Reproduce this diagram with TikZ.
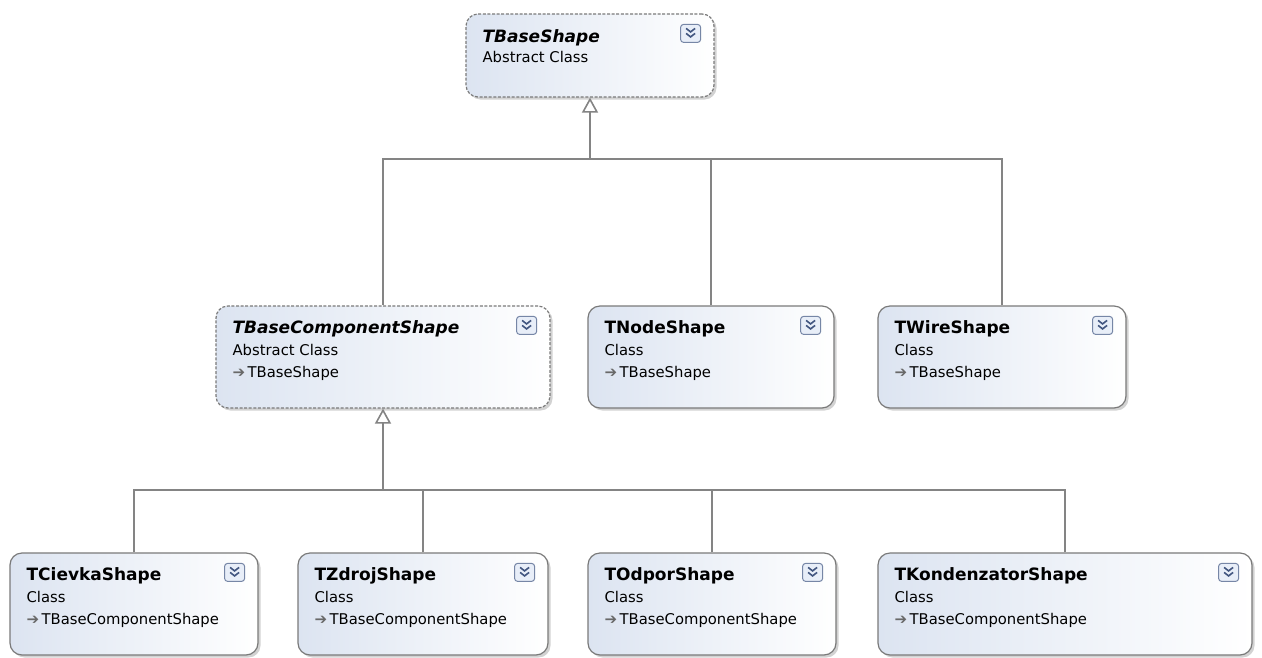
\documentclass[tikz,border=0pt]{standalone}
\usepackage{fontspec}
\setmainfont{DejaVu Sans}
\usetikzlibrary{arrows.meta,shadows}
\definecolor{boxblue}{RGB}{220,228,241}
\definecolor{boxline}{RGB}{122,122,122}
\definecolor{wiregray}{RGB}{132,132,132}
\definecolor{chevline}{RGB}{118,134,166}
\definecolor{chevfill}{RGB}{232,238,248}
\definecolor{chevblue}{RGB}{66,86,128}
\definecolor{inhgray}{RGB}{105,105,105}
\tikzset{
  classbox/.style={draw=boxline, line width=1.2pt, rounded corners=12pt,
    left color=boxblue, right color=white, inner sep=0pt,
    drop shadow={shadow xshift=2.5pt, shadow yshift=-2.5pt, opacity=0.35, fill=gray}},
  abstractbox/.style={classbox, dash pattern=on 3pt off 1.6pt},
  ctitle/.style={anchor=base west, inner sep=0pt, font=\fontsize{17}{18}\selectfont\bfseries},
  atitle/.style={ctitle, font=\fontsize{17}{18}\selectfont\bfseries\itshape},
  csub/.style={anchor=base west, inner sep=0pt, font=\fontsize{14.8}{16}\selectfont},
  inherit/.style={draw=wiregray, line width=1.6pt},
  chev/.pic={
    \draw[draw=chevline, fill=chevfill, line width=1pt, rounded corners=3pt] (-10,-9) rectangle (10,9);
    \draw[chevblue, line width=1.6pt] (-4.5,-5)--(0,-1.5)--(4.5,-5) (-4.5,0)--(0,3.5)--(4.5,0);
  }
}
\newcommand{\inharrow}{{\color{inhgray}\fontsize{15}{15}\selectfont ➔}\,}
\begin{document}
\begin{tikzpicture}[x=1pt,y=-1pt]
  \fill[white] (0,0) rectangle (1262,657);
  \useasboundingbox (0,0) rectangle (1262,657);

  % abstract root
  \node[abstractbox, minimum width=248pt, minimum height=83pt] (base) at (590,55.5) {};
  \node[atitle] (base-t) at ([xshift=17pt,yshift=-29pt]base.north west) {TBaseShape};
  \node[csub] (base-k) at ([xshift=17pt,yshift=-49pt]base.north west) {Abstract Class};
  \pic at ([xshift=-24pt,yshift=-20pt]base.north east) {chev};

  % second level
  \node[abstractbox, minimum width=334pt, minimum height=102pt] (comp) at (383,357) {};
  \node[atitle] (comp-t) at ([xshift=17pt,yshift=-28pt]comp.north west) {TBaseComponentShape};
  \node[csub] (comp-k) at ([xshift=17pt,yshift=-50pt]comp.north west) {Abstract Class};
  \node[csub] (comp-p) at ([xshift=17pt,yshift=-72pt]comp.north west) {\inharrow TBaseShape};
  \pic at ([xshift=-24pt,yshift=-20pt]comp.north east) {chev};

  \node[classbox, minimum width=246pt, minimum height=102pt] (nodes) at (711,357) {};
  \node[ctitle] (nodes-t) at ([xshift=17pt,yshift=-28pt]nodes.north west) {TNodeShape};
  \node[csub] (nodes-k) at ([xshift=17pt,yshift=-50pt]nodes.north west) {Class};
  \node[csub] (nodes-p) at ([xshift=17pt,yshift=-72pt]nodes.north west) {\inharrow TBaseShape};
  \pic at ([xshift=-24pt,yshift=-20pt]nodes.north east) {chev};

  \node[classbox, minimum width=248pt, minimum height=102pt] (wire) at (1002,357) {};
  \node[ctitle] (wire-t) at ([xshift=17pt,yshift=-28pt]wire.north west) {TWireShape};
  \node[csub] (wire-k) at ([xshift=17pt,yshift=-50pt]wire.north west) {Class};
  \node[csub] (wire-p) at ([xshift=17pt,yshift=-72pt]wire.north west) {\inharrow TBaseShape};
  \pic at ([xshift=-24pt,yshift=-20pt]wire.north east) {chev};

  % components
  \node[classbox, minimum width=248pt, minimum height=102pt] (cievka) at (134,604) {};
  \node[ctitle] (cievka-t) at ([xshift=17pt,yshift=-28pt]cievka.north west) {TCievkaShape};
  \node[csub] (cievka-k) at ([xshift=17pt,yshift=-50pt]cievka.north west) {Class};
  \node[csub] (cievka-p) at ([xshift=17pt,yshift=-72pt]cievka.north west) {\inharrow TBaseComponentShape};
  \pic at ([xshift=-24pt,yshift=-20pt]cievka.north east) {chev};

  \node[classbox, minimum width=250pt, minimum height=102pt] (zdroj) at (423,604) {};
  \node[ctitle] (zdroj-t) at ([xshift=17pt,yshift=-28pt]zdroj.north west) {TZdrojShape};
  \node[csub] (zdroj-k) at ([xshift=17pt,yshift=-50pt]zdroj.north west) {Class};
  \node[csub] (zdroj-p) at ([xshift=17pt,yshift=-72pt]zdroj.north west) {\inharrow TBaseComponentShape};
  \pic at ([xshift=-24pt,yshift=-20pt]zdroj.north east) {chev};

  \node[classbox, minimum width=248pt, minimum height=102pt] (odpor) at (712,604) {};
  \node[ctitle] (odpor-t) at ([xshift=17pt,yshift=-28pt]odpor.north west) {TOdporShape};
  \node[csub] (odpor-k) at ([xshift=17pt,yshift=-50pt]odpor.north west) {Class};
  \node[csub] (odpor-p) at ([xshift=17pt,yshift=-72pt]odpor.north west) {\inharrow TBaseComponentShape};
  \pic at ([xshift=-24pt,yshift=-20pt]odpor.north east) {chev};

  \node[classbox, minimum width=374pt, minimum height=102pt] (kond) at (1065,604) {};
  \node[ctitle] (kond-t) at ([xshift=17pt,yshift=-28pt]kond.north west) {TKondenzatorShape};
  \node[csub] (kond-k) at ([xshift=17pt,yshift=-50pt]kond.north west) {Class};
  \node[csub] (kond-p) at ([xshift=17pt,yshift=-72pt]kond.north west) {\inharrow TBaseComponentShape};
  \pic at ([xshift=-24pt,yshift=-20pt]kond.north east) {chev};

  % inheritance lines
  \coordinate (bus1) at (590,159);
  \coordinate (bus2) at (383,490);
  \draw[inherit] (comp.north) |- (bus1);
  \draw[inherit] (nodes.north) |- (bus1);
  \draw[inherit] (wire.north) |- (bus1);
  \draw[inherit, -{Triangle[open, fill=white, length=15pt, width=16pt]}] (bus1) -- (base.south);
  \draw[inherit] (cievka.north) |- (bus2);
  \draw[inherit] (zdroj.north) |- (bus2);
  \draw[inherit] (odpor.north) |- (bus2);
  \draw[inherit] (kond.north) |- (bus2);
  \draw[inherit, -{Triangle[open, fill=white, length=15pt, width=16pt]}] (bus2) -- (comp.south);
\end{tikzpicture}
\end{document}
